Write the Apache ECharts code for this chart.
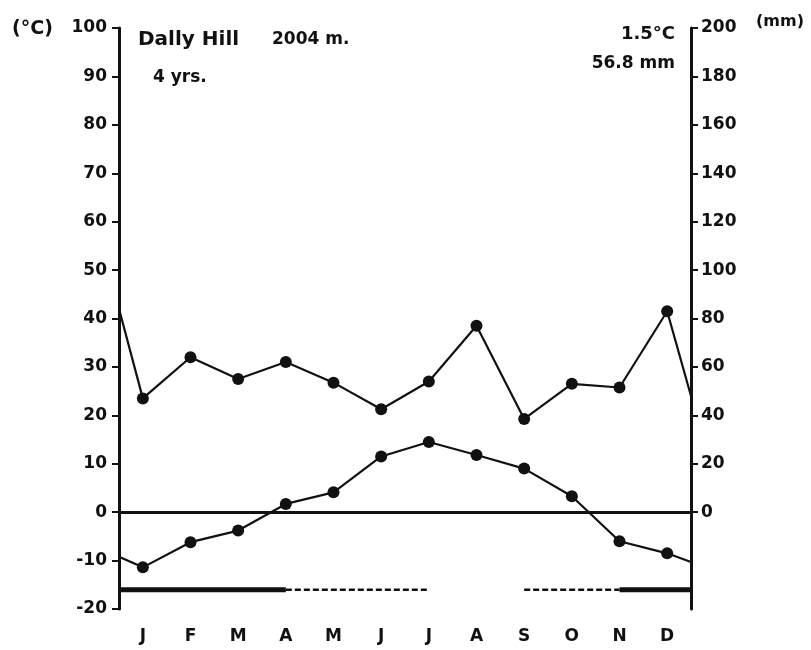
<!DOCTYPE html>
<html>
<head>
<meta charset="utf-8">
<script src="https://cdn.jsdelivr.net/npm/echarts@6/dist/echarts.min.js"></script>
<style>
html,body{margin:0;padding:0;background:#fff;}
#chart{width:811px;height:650px;}
</style>
</head>
<body>
<div id="chart"></div>
<script>
// ---- data ----
var months = ['J','F','M','A','M','J','J','A','S','O','N','D'];
var temperature = [-11.4,-6.2,-3.8,1.7,4.1,11.5,14.5,11.8,9.0,3.3,-6.0,-8.5];   // °C
var precipitation = [47,64,55,62,53.5,42.5,54,77,38.5,53,51.5,83];               // mm
var temperatureEdges = [-9.2,-10.3];   // values where the curve meets the left / right axis
var precipitationEdges = [84,48];
var frostSolid = [[0,3.5],[10.5,12]];  // month spans (solid bar)
var frostDashed = [[3.5,6.5],[8.5,10.5]]; // month spans (dashed bar)
var leftTicks = [100,90,80,70,60,50,40,30,20,10,0,-10,-20];
var rightTicks = [200,180,160,140,120,100,80,60,40,20,0];
var stationName = 'Dally Hill';
var altitude = '2004 m.';
var years = '4 yrs.';
var meanTemp = '1.5°C';
var annualPrecip = '56.8 mm';

var FROST_LEVEL = -16;
var FONT = 'DejaVu Sans';

function curve(vals, edges){
  var d = [{value:[0, edges[0]], symbol:'none'}];
  vals.forEach(function(v,i){ d.push({value:[i+0.5, v]}); });
  d.push({value:[12, edges[1]], symbol:'none'});
  return d;
}
function spans(list){
  var d = [];
  list.forEach(function(s){ d.push([s[0],FROST_LEVEL]); d.push([s[1],FROST_LEVEL]); d.push([s[1],'-']); });
  return d;
}

var chart = echarts.init(document.getElementById('chart'));
var labelStyle = {color:'#111', fontFamily:FONT, fontWeight:'bold', fontSize:17};
chart.setOption({
  animation:false,
  backgroundColor:'#fff',
  grid:{left:119, right:120, top:28, bottom:41},
  xAxis:[
    {type:'category', data:months, boundaryGap:true, position:'bottom',
     axisLine:{show:false}, axisTick:{show:false},
     axisLabel:Object.assign({margin:19}, labelStyle), splitLine:{show:false}},
    {type:'value', min:0, max:12, show:false}
  ],
  yAxis:[
    {type:'value', min:-20, max:100, interval:10, position:'left',
     axisLine:{show:true, lineStyle:{color:'#111', width:3}},
     axisTick:{show:true, inside:false, length:7, lineStyle:{color:'#111', width:2}},
     axisLabel:Object.assign({margin:12, customValues:leftTicks}, labelStyle),
     splitLine:{show:false}},
    {type:'value', min:-40, max:200, interval:20, position:'right',
     axisLine:{show:true, lineStyle:{color:'#111', width:3}},
     axisTick:{show:true, length:7, customValues:rightTicks, lineStyle:{color:'#111', width:2}},
     axisLabel:Object.assign({margin:10, customValues:rightTicks,
       formatter:function(v){return v<0?'':String(v);}}, labelStyle),
     splitLine:{show:false}}
  ],
  series:[
    {type:'line', name:'Temperature', xAxisIndex:1, yAxisIndex:0,
     data:curve(temperature, temperatureEdges),
     symbol:'circle', symbolSize:12, showAllSymbol:true,
     lineStyle:{color:'#111', width:2.2}, itemStyle:{color:'#111'},
     markLine:{silent:true, symbol:['none','none'], label:{show:false},
       lineStyle:{color:'#111', width:3, type:'solid'}, data:[{yAxis:0}]}},
    {type:'line', name:'Precipitation', xAxisIndex:1, yAxisIndex:1,
     data:curve(precipitation, precipitationEdges),
     symbol:'circle', symbolSize:12, showAllSymbol:true,
     lineStyle:{color:'#111', width:2.2}, itemStyle:{color:'#111'}},
    {type:'line', name:'frost', xAxisIndex:1, yAxisIndex:0, data:spans(frostSolid),
     symbol:'none', connectNulls:false, lineStyle:{color:'#111', width:5}},
    {type:'line', name:'frost2', xAxisIndex:1, yAxisIndex:0, data:spans(frostDashed),
     symbol:'none', connectNulls:false, lineStyle:{color:'#111', width:2.5, type:[6,3]}}
  ],
  graphic:[
    {type:'text', x:12, y:29, style:{text:'(°C)', font:'bold 19px '+FONT, fill:'#111', textVerticalAlign:'middle'}},
    {type:'text', x:138, y:40, style:{text:stationName, font:'bold 20px '+FONT, fill:'#111', textVerticalAlign:'middle'}},
    {type:'text', x:272, y:40, style:{text:altitude, font:'bold 17px '+FONT, fill:'#111', textVerticalAlign:'middle'}},
    {type:'text', x:153, y:78, style:{text:years, font:'bold 17px '+FONT, fill:'#111', textVerticalAlign:'middle'}},
    {type:'text', x:675, y:34, style:{text:meanTemp, font:'bold 18px '+FONT, fill:'#111', textAlign:'right', textVerticalAlign:'middle'}},
    {type:'text', x:675, y:64, style:{text:annualPrecip, font:'bold 17px '+FONT, fill:'#111', textAlign:'right', textVerticalAlign:'middle'}},
    {type:'text', x:756, y:22, style:{text:'(mm)', font:'bold 16px '+FONT, fill:'#111', textVerticalAlign:'middle'}}
  ]
});
</script>
</body>
</html>
